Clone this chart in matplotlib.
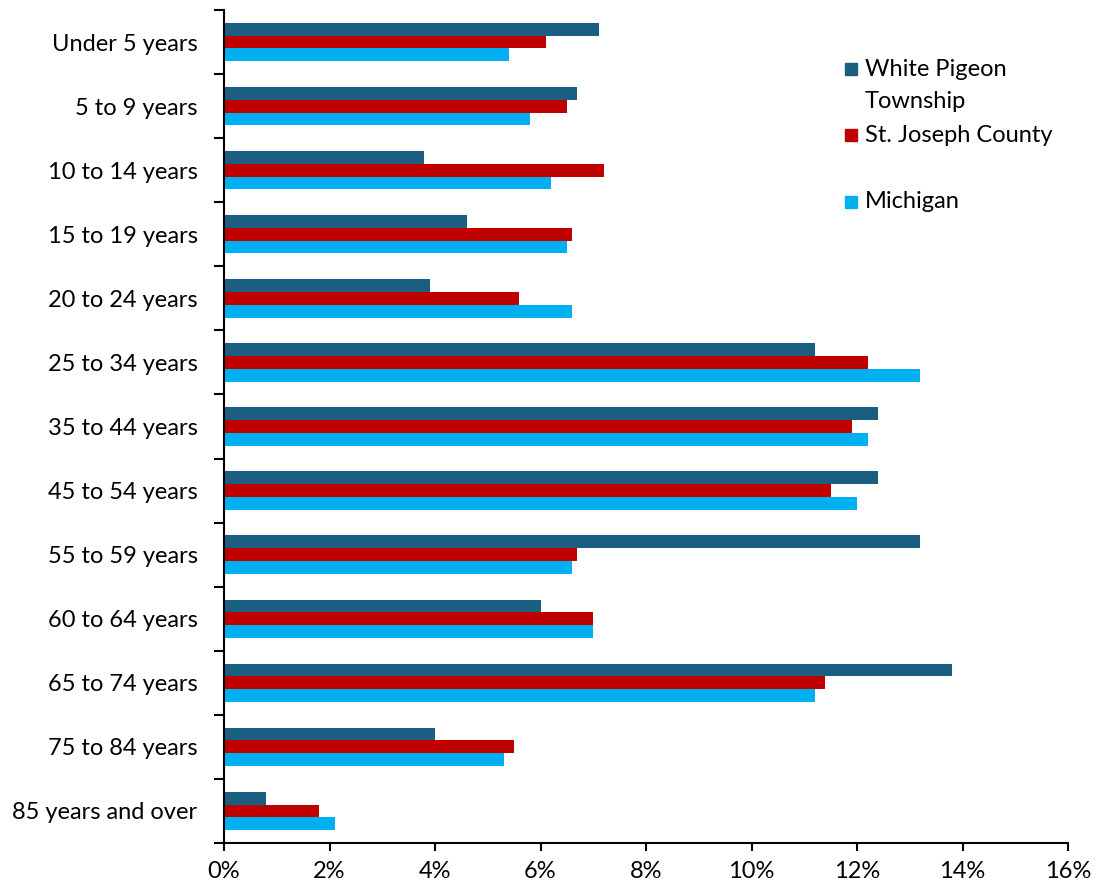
import numpy as np
import matplotlib.pyplot as plt
from matplotlib.patches import Rectangle
from matplotlib.ticker import PercentFormatter

plt.rcParams["font.family"] = ["Lato", "DejaVu Sans"]

ages = ["Under 5 years", "5 to 9 years", "10 to 14 years", "15 to 19 years",
        "20 to 24 years", "25 to 34 years", "35 to 44 years", "45 to 54 years",
        "55 to 59 years", "60 to 64 years", "65 to 74 years", "75 to 84 years",
        "85 years and over"]
white_pigeon = [7.1, 6.7, 3.8, 4.6, 3.9, 11.2, 12.4, 12.4, 13.2, 6.0, 13.8, 4.0, 0.8]
st_joseph = [6.1, 6.5, 7.2, 6.6, 5.6, 12.2, 11.9, 11.5, 6.7, 7.0, 11.4, 5.5, 1.8]
michigan = [5.4, 5.8, 6.2, 6.5, 6.6, 13.2, 12.2, 12.0, 6.6, 7.0, 11.2, 5.3, 2.1]

series = [("White Pigeon\nTownship", white_pigeon, "#1A5E82"),
          ("St. Joseph County", st_joseph, "#C00000"),
          ("Michigan", michigan, "#00B0F0")]

fig = plt.figure(figsize=(10.98, 8.9), dpi=100)
ax = fig.add_axes([224/1098, 47/890, 844/1098, 833/890])

y = np.arange(len(ages))
h = 0.2
for i, (name, vals, col) in enumerate(series):
    ax.barh(y + (i - 1) * h, vals, height=h, color=col)

ax.set_xlim(0, 16)
ax.set_ylim(len(ages) - 0.5, -0.5)
ax.xaxis.set_major_formatter(PercentFormatter(decimals=0))
ax.set_xticks(np.arange(0, 17, 2))

ax.set_yticks(np.arange(len(ages) + 1) - 0.5)
ax.set_yticklabels([])
ax.set_yticks(y, minor=True)
ax.set_yticklabels(ages, minor=True)
ax.tick_params(axis="y", which="major", length=7, width=1.5, direction="out")
ax.tick_params(axis="y", which="minor", length=0, pad=19, labelsize=17)
ax.tick_params(axis="x", length=6, width=1.5, direction="out", labelsize=17, pad=7)

for s in ["top", "right"]:
    ax.spines[s].set_visible(False)
for s in ["left", "bottom"]:
    ax.spines[s].set_linewidth(1.5)

# legend drawn by hand to keep the Excel spacing
leg_y = [69, 135, 202]
for (name, vals, col), py in zip(series, leg_y):
    fig.patches.append(Rectangle((845/1098, 1 - (py + 6)/890), 12/1098, 12/890,
                                 transform=fig.transFigure, color=col))
    ty = py + 16.5 if "\n" in name else py
    fig.text(865/1098, 1 - ty/890, name, fontsize=17, va="center",
             linespacing=1.7, transform=fig.transFigure)

fig.savefig("out.png", dpi=100)
